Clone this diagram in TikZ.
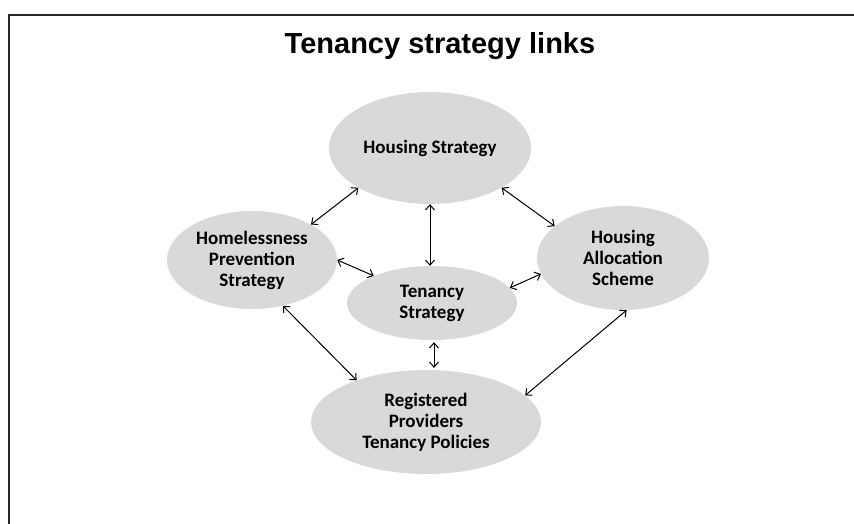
\documentclass[tikz,border=0pt]{standalone}
\usepackage{fontspec}
\setmainfont{Carlito}
\newfontfamily\titlefont{Liberation Sans}
\usetikzlibrary{arrows.meta,shapes.geometric,calc}
\definecolor{ellgray}{HTML}{D9D9D9}
\tikzset{
  bubble/.style={ellipse, fill=ellgray, draw=none, inner sep=0pt, align=center,
    font=\bfseries\fontsize{19}{21}\selectfont},
  link/.style={line width=1pt, {Straight Barb[length=5pt,width=9pt]}-{Straight Barb[length=5pt,width=9pt]}},
  frame/.style={line width=2pt, draw=black!85}
}
\begin{document}
\begin{tikzpicture}[x=1pt,y=1pt]
\useasboundingbox (0,0) rectangle (854,-523);
\fill[white] (0,0) rectangle (854,-523);
\coordinate (fb) at (9,-524);
\coordinate (fc) at (9,-15);
\coordinate (fr) at (855,-15);
\draw[frame] (fb) -- (fc) -- (fr);
\node[anchor=base, font=\titlefont\bfseries\fontsize{29}{32}\selectfont] (title) at (440,-53) {Tenancy strategy links};
\node[bubble, minimum width=202pt, minimum height=112pt] (hs) at (430,-148) {Housing Strategy};
\node[bubble, minimum width=170pt, minimum height=98pt] (hp) at (252,-260) {Homelessness\\Prevention\\Strategy};
\node[bubble, minimum width=170pt, minimum height=74pt] (ts) at (432,-303) {Tenancy\\Strategy};
\node[bubble, minimum width=172pt, minimum height=104pt] (ha) at (623,-258) {Housing\\Allocation\\Scheme};
\node[bubble, minimum width=230pt, minimum height=104pt] (rp) at (426,-422) {Registered\\Providers\\Tenancy Policies};
\draw[link] (hs.209) -- (hp.31);
\draw[link] (hs.south) -- (hs.south |- ts.north);
\draw[link] (hs.331) -- (ha.155.5);
\draw[link] (hp.0) -- (ts.155);
\draw[link] (ts.11) -- (ha.191);
\draw[link] (hp.304) -- (rp.149.6);
\draw[link, shorten <=2pt, shorten >=2pt] ([xshift=2pt]ts.south) -- ([xshift=2pt]ts.south |- rp.north);
\draw[link] (ha.274.3) -- (rp.15);
\end{tikzpicture}
\end{document}
